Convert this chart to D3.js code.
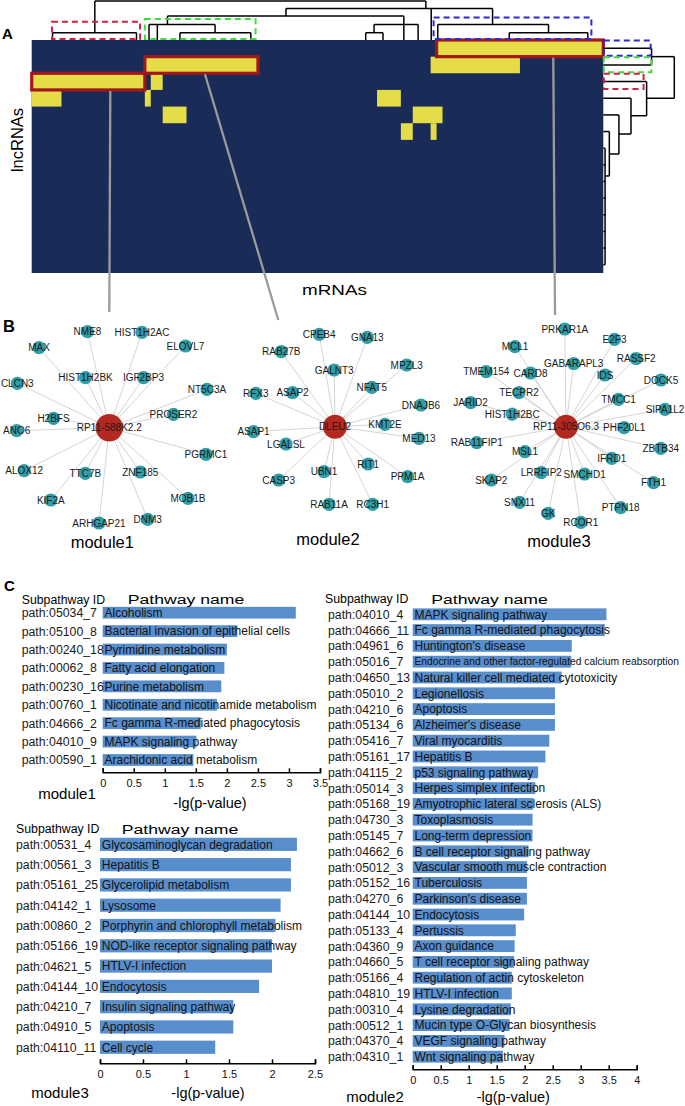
<!DOCTYPE html>
<html><head><meta charset="utf-8">
<script src="https://cdn.jsdelivr.net/npm/d3@7"></script>
<style>body{margin:0;background:#fff}svg{display:block}text{font-family:"Liberation Sans",Arial,Helvetica,sans-serif}</style>
</head><body><svg id="c" width="685" height="1106"></svg>
<script>
// ================= DATA =================
// Panel A heatmap (binary lncRNA x mRNA membership)
const hmRowCount = 14, hmColCount = 96;
const yellowSegments = [ // [row, startCol, endCol]
  [0,68,96],[1,19,38],[1,67,82],[2,0,19],[2,20,22],[3,0,5],[3,19,20],[3,58,62],
  [4,22,26],[4,64,69],[5,62,64],[5,67,68]
];
const moduleBlocks = [ // highlighted blocks: row, cols, connector column
  {name:"module1", row:2, c0:0, c1:19, linkCol:13.2},
  {name:"module2", row:1, c0:19, c1:38, linkCol:29.1},
  {name:"module3", row:0, c0:68, c1:96, linkCol:87.6}
];
// column dendrogram (x in column units, h = relative merge height)
const topDendro = {h:1, children:[
  {x:10.6, h:0.187, children:[{x:3.5},{x:17.6}]},
  {x:66.2, h:0.81, children:[
    {x:42.7, h:0.615, children:[
      {x:22.8, h:0.40, children:[{x:19.7},{x:21.1},{x:30.8,h:0.187,children:[{x:24.9},{x:36.8}]}]},
      {x:62.5, h:0.40, children:[{x:57.5,h:0.187,children:[{x:56.1},{x:59.0}]},{x:62.5},{x:64.9}]}
    ]},
    {x:67.1},
    {x:77.4, h:0.40, children:[{x:68.2},{x:86.8,h:0.187,children:[{x:80.2},{x:93.4}]}]}
  ]}
]};
// row dendrogram (pos in row units)
const rightDendro = {h:1, children:[
  {pos:1.0, h:0.68, children:[{pos:0.5},{pos:1.5}]},
  {pos:3.5, h:0.61, children:[{pos:2.5},
    {pos:4.55, h:0.39, children:[{pos:3.5},
      {pos:5.65, h:0.22, children:[{pos:4.5},
        {pos:6.85, h:0.085, children:[{pos:5.5},
          {pos:8.17, h:0.025, children:[{pos:6.5},{pos:7.5},{pos:8.5},{pos:9.5},{pos:10.5},{pos:11.5},{pos:12.5},{pos:13.5}]}
        ]}
      ]}
    ]}
  ]}
]};
const topBoxes = [ {c0:3.4,c1:18.2,h:0.47,color:"#cc2244"}, {c0:19.0,c1:37.6,h:0.54,color:"#3fdc3f"}, {c0:67.5,c1:94.0,h:0.58,color:"#2a2ad0"} ];
const rightBoxes = [ {row:0,h:0.66,color:"#2a2ad0"}, {row:1,h:0.67,color:"#3fdc3f"}, {row:2,h:0.56,color:"#cc2244"} ];

// Panel B networks: [gene, dx, dy] layout offsets from hub
const module1Genes = [["NME8",-21.8,-96],["HIST1H2AC",32.7,-95.4],["MAX",-70.3,-80],["ELOVL7",76.2,-81.7],
  ["HIST1H2BK",-23.8,-50],["IGF2BP3",34.2,-50],["CLCN3",-92,-44.4],["NT5C3A",97.7,-38.4],["H2BFS",-55.8,-9.4],
  ["PROSER2",64.2,-13.4],["ANO6",-92.6,3],["PGRMC1",96.7,26.6],["ALOX12",-85.1,43],["TTC7B",-24,45.6],
  ["ZNF185",31,44.3],["KIF2A",-58.5,72.3],["MOB1B",78.7,70.6],["ARHGAP21",-10.3,95.3],["DNM3",38.4,91.6]];
const module2Genes = [["CPEB4",-15.8,-92.4],["GNA13",32.3,-89.4],["RAB27B",-53.7,-75],["GALNT3",-0.8,-56.7],
  ["MPZL3",71.7,-61.7],["RFX3",-79.2,-33.4],["ASAP2",-42.5,-34],["NFAT5",36.8,-39.4],["DNAJB6",86,-21.7],
  ["KMT2E",50,-2.4],["ASAP1",-81.5,5],["LGALSL",-49,17.3],["MED13",84,11.6],["RIT1",33.2,37.3],["UBN1",-11,45],
  ["CASP3",-56.3,53.3],["PPM1A",72.6,50],["RAB11A",-6,77.6],["RC3H1",37.6,77.6]];
const module3Genes = [["PRKAR1A",-1.2,-97.7],["E2F3",48.5,-87.4],["MCL1",-51,-80],["RASSF2",70.2,-68.2],
  ["GABARAPL3",7.7,-63.2],["TMEM154",-79.8,-55],["CARD8",-35.5,-53.7],["IDS",39,-51.7],["DOCK5",95,-46.7],
  ["TECPR2",-47,-34],["TMCC1",52.5,-27.4],["JARID2",-95.4,-24],["SIPA1L2",99,-17.4],["HIST1H2BC",-53.8,-12.5],
  ["PHF20L1",58.2,1],["RAB11FIP1",-89.3,16],["ZBTB34",94.8,21.6],["MSL1",-41,25],["IFRD1",45.8,31.6],
  ["LRRFIP2",-24.7,46],["SMCHD1",18.6,47.3],["SKAP2",-74.7,53.3],["FTH1",87.5,56],["SNX11",-46.4,75.6],
  ["PTPN18",54.7,81],["GK",-17.8,86.6],["RCOR1",14.8,95.6]];
const hubs = ["RP11-588K2.2","DLEU2","RP11-305O6.3"];

// Panel C enrichment
const m1Ids = ["path:05034_7","path:05100_8","path:00240_18","path:00062_8","path:00230_16","path:00760_1","path:04666_2","path:04010_9","path:00590_1"];
const m1Names = ["Alcoholism","Bacterial invasion of epithelial cells","Pyrimidine metabolism","Fatty acid elongation","Purine metabolism","Nicotinate and nicotinamide metabolism","Fc gamma R-mediated phagocytosis","MAPK signaling pathway","Arachidonic acid metabolism"];
const m1Values = [3.11,2.17,2.00,1.96,1.91,1.84,1.58,1.51,1.46];
const m1Ticks = [0,0.5,1,1.5,2,2.5,3,3.5];

const m3Ids = ["path:00531_4","path:00561_3","path:05161_25","path:04142_1","path:00860_2","path:05166_19","path:04621_5","path:04144_10","path:04210_7","path:04910_5","path:04110_11"];
const m3Names = ["Glycosaminoglycan degradation","Hepatitis B","Glycerolipid metabolism","Lysosome","Porphyrin and chlorophyll metabolism","NOD-like receptor signaling pathway","HTLV-I infection","Endocytosis","Insulin signaling pathway","Apoptosis","Cell cycle"];
const m3Values = [2.29,2.22,2.22,2.10,2.04,2.00,2.00,1.85,1.55,1.55,1.34];
const m3Ticks = [0,0.5,1,1.5,2,2.5];

const m2Ids = ["path:04010_4","path:04666_11","path:04961_6","path:05016_7","path:04650_13","path:05010_2","path:04210_6","path:05134_6","path:05416_7","path:05161_17","path:04115_2","path:05014_3","path:05168_19","path:04730_3","path:05145_7","path:04662_6","path:05012_3","path:05152_16","path:04270_6","path:04144_10","path:05133_4","path:04360_9","path:04660_5","path:05166_4","path:04810_19","path:00310_4","path:00512_1","path:04370_4","path:04310_1"];
const m2Names = ["MAPK signaling pathway","Fc gamma R-mediated phagocytosis","Huntington's disease","Endocrine and other factor-regulated calcium reabsorption","Natural killer cell mediated cytotoxicity","Legionellosis","Apoptosis","Alzheimer's disease","Viral myocarditis","Hepatitis B","p53 signaling pathway","Herpes simplex infection","Amyotrophic lateral sclerosis (ALS)","Toxoplasmosis","Long-term depression","B cell receptor signaling pathway","Vascular smooth muscle contraction","Tuberculosis","Parkinson's disease","Endocytosis","Pertussis","Axon guidance","T cell receptor signaling pathway","Regulation of actin cytoskeleton","HTLV-I infection","Lysine degradation","Mucin type O-Glycan biosynthesis","VEGF signaling pathway","Wnt signaling pathway"];
const m2Values = [3.46,3.43,2.84,2.83,2.66,2.54,2.54,2.54,2.44,2.37,2.24,2.19,2.15,2.14,2.14,2.07,2.04,2.04,2.04,1.99,1.84,1.82,1.81,1.77,1.77,1.75,1.73,1.64,1.61];
const m2Ticks = [0,0.5,1,1.5,2,2.5,3,3.5,4];

// ================= DRAW =================
const svg = d3.select("#c");
const NAVY="#1b2b58", YEL="#e4dd48", BOXRED="#a3161a", TEAL="#2f9ea6", HUB="#b3281f", BAR="#598ecd";

// panel letters
svg.append("text").attr("x",2).attr("y",39).attr("font-size",15).attr("font-weight","bold").text("A");
svg.append("text").attr("x",3).attr("y",331.5).attr("font-size",16.5).attr("font-weight","bold").text("B");
svg.append("text").attr("x",4).attr("y",590.5).attr("font-size",15).attr("font-weight","bold").text("C");

// ---- heatmap
const hmX = d3.scaleLinear().domain([0,hmColCount]).range([31.7,603.3]);
const hmY = d3.scaleLinear().domain([0,hmRowCount]).range([40,273]);
svg.append("rect").attr("x",hmX(0)).attr("y",hmY(0)).attr("width",hmX(hmColCount)-hmX(0))
  .attr("height",hmY(hmRowCount)-hmY(0)).attr("fill",NAVY);
svg.append("g").selectAll("rect").data(yellowSegments).join("rect")
  .attr("x",d=>hmX(d[1])).attr("y",d=>hmY(d[0])).attr("width",d=>hmX(d[2])-hmX(d[1]))
  .attr("height",d=>hmY(d[0]+1)-hmY(d[0])).attr("fill",YEL);
svg.append("g").selectAll("rect").data(moduleBlocks).join("rect")
  .attr("x",d=>hmX(d.c0)).attr("y",d=>hmY(d.row)).attr("width",d=>hmX(d.c1)-hmX(d.c0))
  .attr("height",d=>hmY(d.row+1)-hmY(d.row)).attr("fill","none").attr("stroke",BOXRED).attr("stroke-width",3.2);

// axis titles
svg.append("text").attr("transform","translate(302,295) scale(1.3,1)").attr("font-size",14.5).text("mRNAs");
svg.append("text").attr("transform","translate(23,140) rotate(-90)").attr("text-anchor","middle").attr("font-size",16.5).text("lncRNAs");

// ---- dendrograms
const dTopY = d3.scaleLinear().domain([0,1]).range([40,1]);
const dRX = d3.scaleLinear().domain([0,1]).range([603.3,674.3]);
const dg = svg.append("g").attr("stroke","#000").attr("stroke-width",1.5).attr("fill","none");
function drawTop(n){
  if(!n.children) return;
  const xs = n.children.map(c=>c.x);
  dg.append("line").attr("x1",hmX(d3.min(xs))).attr("x2",hmX(d3.max(xs))).attr("y1",dTopY(n.h)).attr("y2",dTopY(n.h));
  n.children.forEach(c=>{
    dg.append("line").attr("x1",hmX(c.x)).attr("x2",hmX(c.x)).attr("y1",dTopY(n.h)).attr("y2",dTopY(c.h||0));
    drawTop(c);
  });
}
drawTop(topDendro);
function drawRight(n){
  if(!n.children) return;
  const ps = n.children.map(c=>c.pos);
  dg.append("line").attr("y1",hmY(d3.min(ps))).attr("y2",hmY(d3.max(ps))).attr("x1",dRX(n.h)).attr("x2",dRX(n.h));
  n.children.forEach(c=>{
    dg.append("line").attr("y1",hmY(c.pos)).attr("y2",hmY(c.pos)).attr("x1",dRX(n.h)).attr("x2",dRX(c.h||0));
    drawRight(c);
  });
}
drawRight(rightDendro);
const bg = svg.append("g").attr("fill","none").attr("stroke-width",2).attr("stroke-dasharray","6,4");
topBoxes.forEach(b=>{
  bg.append("rect").attr("x",hmX(b.c0)).attr("y",dTopY(b.h)).attr("width",hmX(b.c1)-hmX(b.c0))
    .attr("height",dTopY(0)-dTopY(b.h)-1).attr("stroke",b.color);
});
rightBoxes.forEach(b=>{
  bg.append("rect").attr("x",dRX(0)+0.5).attr("y",hmY(b.row)+0.5).attr("width",dRX(b.h)-dRX(0))
    .attr("height",hmY(b.row+1)-hmY(b.row)-1.5).attr("stroke",b.color);
});

// ---- networks
const nets = [
  {hub:hubs[0], genes:module1Genes, cx:109.3, cy:427.7, r:13.7, link:[0,-115.7], label:"module1", ly:120.5},
  {hub:hubs[1], genes:module2Genes, cx:335, cy:426.7, r:12, link:[-56.7,-106.7], label:"module2", ly:118.5},
  {hub:hubs[2], genes:module3Genes, cx:566, cy:426.7, r:12, link:[-11,-111.7], label:"module3", ly:120}
];
// connectors from heatmap blocks
const cg = svg.append("g").attr("stroke","#9b9b9b").attr("stroke-width",2.3);
nets.forEach((n,i)=>{
  const b = moduleBlocks[i];
  cg.append("line").attr("x1",hmX(b.linkCol)).attr("y1",hmY(b.row+1)+1).attr("x2",n.cx+n.link[0]).attr("y2",n.cy+n.link[1]);
});
nets.forEach(n=>{
  const sx = d3.scaleLinear().domain([-100,100]).range([n.cx-100,n.cx+100]);
  const sy = d3.scaleLinear().domain([-100,100]).range([n.cy-100,n.cy+100]);
  const g = svg.append("g");
  g.selectAll("line").data(n.genes).join("line").attr("x1",sx(0)).attr("y1",sy(0))
    .attr("x2",d=>sx(d[1])).attr("y2",d=>sy(d[2])).attr("stroke","#cfcfcf").attr("stroke-width",0.9);
  g.selectAll("circle.g").data(n.genes).join("circle").attr("cx",d=>sx(d[1])).attr("cy",d=>sy(d[2]))
    .attr("r",6.6).attr("fill",TEAL);
  g.append("circle").attr("cx",sx(0)).attr("cy",sy(0)).attr("r",n.r).attr("fill",HUB);
  g.selectAll("text.g").data(n.genes).join("text").attr("x",d=>sx(d[1])).attr("y",d=>sy(d[2]))
    .attr("dy","0.36em").attr("text-anchor","middle").attr("font-size",10).attr("fill","#1a1a1a").text(d=>d[0]);
  g.append("text").attr("x",sx(0)).attr("y",sy(0)).attr("dy","0.36em").attr("text-anchor","middle")
    .attr("font-size",10).attr("fill","#1a1a1a").text(n.hub);
  svg.append("text").attr("x",sx(-7)).attr("y",sy(n.ly)).attr("text-anchor","middle").attr("font-size",16.5).text(n.label);
});

// ---- bar charts
function barChart(o){
  const x = d3.scaleLinear().domain([0,o.ticks[o.ticks.length-1]]).range(o.xRange);
  const y = d3.scaleBand().domain(o.ids).range(o.yRange).paddingInner(o.pad).paddingOuter(o.pad/2);
  const g = svg.append("g");
  g.selectAll("rect").data(o.ids).join("rect").attr("x",x(0)).attr("y",d=>y(d))
    .attr("width",(d,i)=>x(o.values[i])-x(0)).attr("height",y.bandwidth()).attr("fill",BAR);
  const mid = d=>y(d)+y.bandwidth()/2;
  g.selectAll("text.id").data(o.ids).join("text").attr("x",o.idX).attr("y",mid).attr("dy","0.36em")
    .attr("font-size",12.3).attr("fill","#1a1a1a").text(d=>d);
  g.selectAll("text.nm").data(o.ids).join("text").attr("x",x(0)+1.8).attr("y",mid).attr("dy","0.36em")
    .attr("font-size",12).attr("fill","#111").text((d,i)=>o.names[i])
    .each(function(){ const L=this.getComputedTextLength(); const room=679-(x(0)+1.8);
      if(L>room){ d3.select(this).attr("font-size",(12*room/L).toFixed(2)); } });
  // header
  g.append("text").attr("x",o.headX).attr("y",o.headY).attr("dy","0.36em").attr("font-size",12.3).text("Subpathway ID");
  g.append("text").attr("transform",`translate(${o.nameCenter},${o.headY+0.5}) scale(1.47,1)`).attr("text-anchor","middle")
    .attr("dy","0.36em").attr("font-size",12).text("Pathway name");
  // axis
  const ax = g.append("g").attr("transform",`translate(0,${o.axisY})`)
    .call(d3.axisBottom(x).tickValues(o.ticks).tickSizeInner(-4).tickSizeOuter(-4).tickPadding(7).tickFormat(d3.format("")));
  ax.select(".domain").attr("stroke","#000").attr("stroke-width",1.5);
  ax.selectAll(".tick line").attr("stroke","#000").attr("stroke-width",1.5);
  ax.selectAll(".tick text").attr("font-size",11).attr("fill","#111").attr("font-family",'"Liberation Sans",Arial,sans-serif');
  g.append("text").attr("x",o.modX).attr("y",o.modY).attr("dy","0.36em").attr("text-anchor","middle").attr("font-size",15).text(o.module);
  g.append("text").attr("x",o.labX).attr("y",o.labY).attr("dy","0.36em").attr("text-anchor","middle").attr("font-size",14.5).text("-lg(p-value)");
}
barChart({ids:m1Ids,names:m1Names,values:m1Values,ticks:m1Ticks,xRange:[102.7,320],yRange:[603.5,769.2],pad:0.36,
  idX:21.7,headX:21.7,headY:599.3,nameCenter:186,axisY:772.3,module:"module1",modX:67,modY:793.3,labX:210,labY:803});
barChart({ids:m3Ids,names:m3Names,values:m3Values,ticks:m3Ticks,xRange:[100,315],yRange:[834.2,1057.4],pad:0.35,
  idX:16,headX:16,headY:829,nameCenter:180,axisY:1063.3,module:"module3",modX:60,modY:1093,labX:208,labY:1093});
barChart({ids:m2Ids,names:m2Names,values:m2Values,ticks:m2Ticks,xRange:[412.7,636.7],yRange:[606.4,1064.6],pad:0.25,
  idX:328,headX:325,headY:599,nameCenter:489.5,axisY:1069.3,module:"module2",modX:375,modY:1096.7,labX:513.3,labY:1096.7});
</script></body></html>
